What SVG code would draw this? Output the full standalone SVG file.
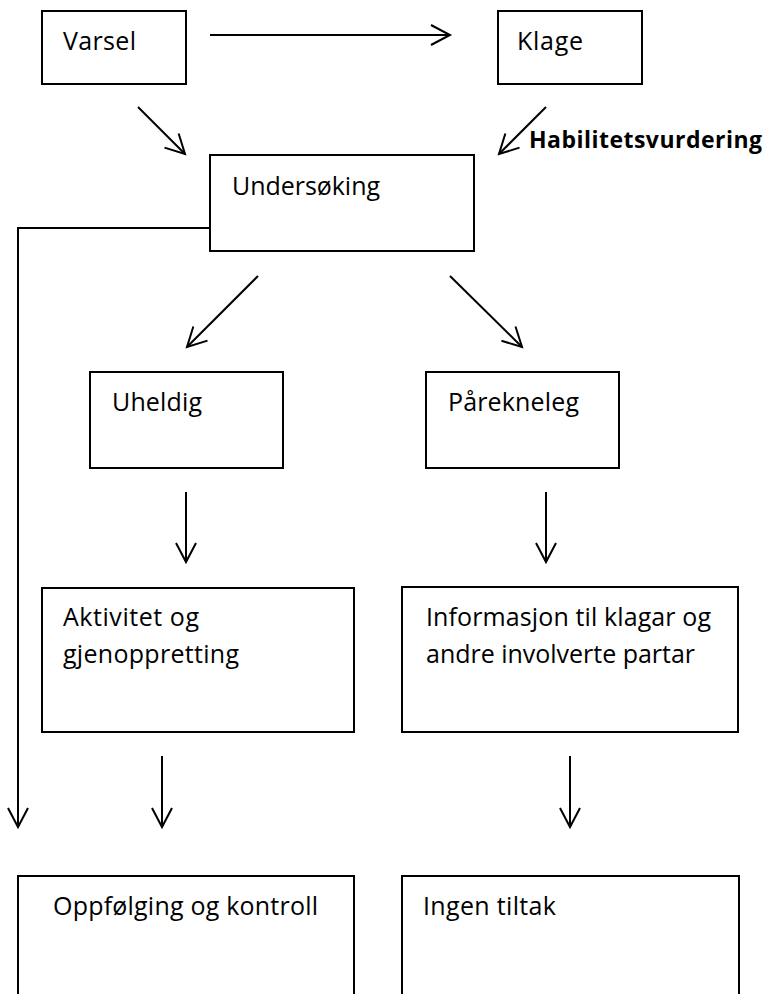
<svg xmlns="http://www.w3.org/2000/svg" width="765" height="994" viewBox="0 0 765 994">
  <style>
    .box { fill: #ffffff; stroke: #000000; stroke-width: 2; }
    .lbl { font-family: "Open Sans", "Liberation Sans", sans-serif; font-size: 25px; fill: #000000; }
    .bold { font-weight: bold; font-size: 23px; }
    .edge { fill: none; stroke: #000000; stroke-width: 2; }
  </style>
  <defs>
    <marker id="open" markerUnits="userSpaceOnUse" markerWidth="30" markerHeight="30" refX="0" refY="0" viewBox="-25 -15 30 30" orient="auto" overflow="visible">
      <path d="M-19,-10 L0,0 L-19,10" fill="none" stroke="#000000" stroke-width="2" stroke-linejoin="miter"/>
    </marker>
  </defs>

  <rect width="765" height="994" fill="#ffffff"/>

  <g id="connectors">
    <line class="edge" x1="210" y1="35" x2="450" y2="35" marker-end="url(#open)"/>
    <line class="edge" x1="138" y1="107" x2="185" y2="154" marker-end="url(#open)"/>
    <line class="edge" x1="546" y1="107" x2="499" y2="154" marker-end="url(#open)"/>
    <line class="edge" x1="258" y1="276" x2="187" y2="347" marker-end="url(#open)"/>
    <line class="edge" x1="450" y1="276" x2="522" y2="347" marker-end="url(#open)"/>
    <line class="edge" x1="186" y1="492" x2="186" y2="562" marker-end="url(#open)"/>
    <line class="edge" x1="546" y1="492" x2="546" y2="562" marker-end="url(#open)"/>
    <line class="edge" x1="162" y1="756" x2="162" y2="827" marker-end="url(#open)"/>
    <line class="edge" x1="570" y1="756" x2="570" y2="827" marker-end="url(#open)"/>
    <polyline class="edge" points="210,228 18,228 18,827" marker-end="url(#open)"/>
    <text class="lbl bold" x="529" y="148" textLength="233">Habilitetsvurdering</text>
  </g>

  <g id="varsel">
    <rect class="box" x="42" y="11" width="144" height="73"/>
    <text class="lbl" x="63" y="50" textLength="73">Varsel</text>
  </g>

  <g id="klage">
    <rect class="box" x="498" y="11" width="144" height="73"/>
    <text class="lbl" x="517" y="50" textLength="66">Klage</text>
  </g>

  <g id="undersoking">
    <rect class="box" x="210" y="155" width="264" height="96"/>
    <text class="lbl" x="232" y="195" textLength="148">Undersøking</text>
  </g>

  <g id="uheldig">
    <rect class="box" x="90" y="372" width="193" height="96"/>
    <text class="lbl" x="112" y="411" textLength="90">Uheldig</text>
  </g>

  <g id="parekneleg">
    <rect class="box" x="426" y="372" width="193" height="96"/>
    <text class="lbl" x="448" y="411" textLength="131">Pårekneleg</text>
  </g>

  <g id="aktivitet">
    <rect class="box" x="42" y="588" width="312" height="144"/>
    <text class="lbl" x="63" y="626" textLength="136">Aktivitet og</text>
    <text class="lbl" x="63" y="663" textLength="176">gjenoppretting</text>
  </g>

  <g id="informasjon">
    <rect class="box" x="402" y="587" width="336" height="145"/>
    <text class="lbl" x="426" y="626" textLength="285">Informasjon til klagar og</text>
    <text class="lbl" x="426" y="663" textLength="269">andre involverte partar</text>
  </g>

  <g id="oppfolging">
    <rect class="box" x="18" y="876" width="336" height="130"/>
    <text class="lbl" x="53" y="915" textLength="265">Oppfølging og kontroll</text>
  </g>

  <g id="ingen-tiltak">
    <rect class="box" x="402" y="876" width="337" height="130"/>
    <text class="lbl" x="423" y="915" textLength="133">Ingen tiltak</text>
  </g>
</svg>
